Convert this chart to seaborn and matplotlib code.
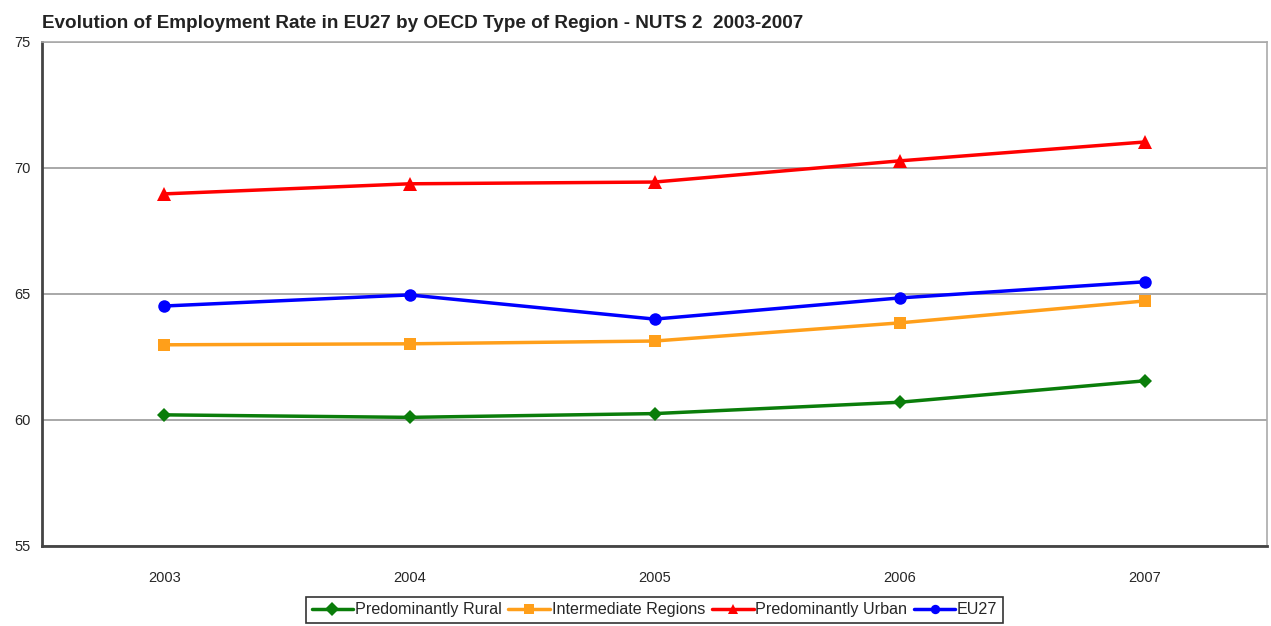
import pandas as pd
import matplotlib.pyplot as plt
import seaborn as sns

# employment rate (%)
years = ['2003', '2004', '2005', '2006', '2007']
rural = [60.2, 60.1, 60.25, 60.7, 61.55]
intermediate = [62.98, 63.02, 63.13, 63.85, 64.72]
urban = [68.97, 69.37, 69.44, 70.28, 71.03]
eu27 = [64.52, 64.96, 64.0, 64.84, 65.48]

series_names = ['Predominantly Rural', 'Intermediate Regions', 'Predominantly Urban', 'EU27']
colors = ['#0a7d0a', '#ff9f1a', '#ff0000', '#0000ff']
markers = ['D', 's', '^', 'o']
marker_sizes = [7, 8.5, 10, 9]

# long format table for seaborn
df = pd.DataFrame({'Year': years, 'Predominantly Rural': rural,
                   'Intermediate Regions': intermediate,
                   'Predominantly Urban': urban, 'EU27': eu27})
df_long = df.melt(id_vars='Year', var_name='Region', value_name='Rate')
df_long['pos'] = df_long['Year'].map({y: i for i, y in enumerate(years)})

sns.set_style('white')
plt.rcParams['font.family'] = ['Liberation Sans', 'DejaVu Sans']

fig = plt.figure(figsize=(12.71, 6.26), dpi=100)
ax = fig.add_axes([0.033, 0.128, 0.964, 0.805])

sns.lineplot(data=df_long, x='pos', y='Rate', hue='Region', style='Region',
             hue_order=series_names, style_order=series_names,
             palette=dict(zip(series_names, colors)),
             markers=dict(zip(series_names, markers)), dashes=False,
             linewidth=2.5, markersize=9, markeredgewidth=0, ax=ax)

# per-series marker sizes
for line, ms in zip(ax.lines, marker_sizes):
    line.set_markersize(ms)

ax.set_ylim(55, 75)
ax.set_xlim(-0.5, len(years) - 0.5)
ax.set_yticks([55, 60, 65, 70, 75])
ax.set_xticks(range(len(years)))
ax.set_xticklabels(years)
ax.set_xticks([i + 0.5 for i in range(len(years) - 1)], minor=True)
ax.tick_params(axis='x', which='major', length=0, pad=18, labelsize=10.5)
ax.tick_params(axis='x', which='minor', length=5, direction='in', color='#222222')
ax.tick_params(axis='y', length=5, direction='out', labelsize=10.5, color='#333333', pad=3)
ax.yaxis.grid(True, color='#999999', linewidth=1.2)
ax.set_axisbelow(True)
ax.set_xlabel('')
ax.set_ylabel('')

for side in ['left', 'bottom']:
    ax.spines[side].set_color('#444444')
    ax.spines[side].set_linewidth(2)
for side in ['top', 'right']:
    ax.spines[side].set_color('#aaaaaa')
    ax.spines[side].set_linewidth(1.2)

fig.text(0.033, 0.963, 'Evolution of Employment Rate in EU27 by OECD Type of Region - NUTS 2  2003-2007',
         fontsize=13.6, fontweight='bold', ha='left', va='center', color='#222222')

leg = ax.legend(loc='upper center', bbox_to_anchor=(0.5, -0.085), ncol=4,
                frameon=True, fancybox=False, edgecolor='black', fontsize=11.6,
                handlelength=2.6, handletextpad=0.1, columnspacing=0.4,
                borderpad=0.35, markerscale=0.75)
leg.get_frame().set_linewidth(1.2)

plt.savefig('out.png', dpi=100)
